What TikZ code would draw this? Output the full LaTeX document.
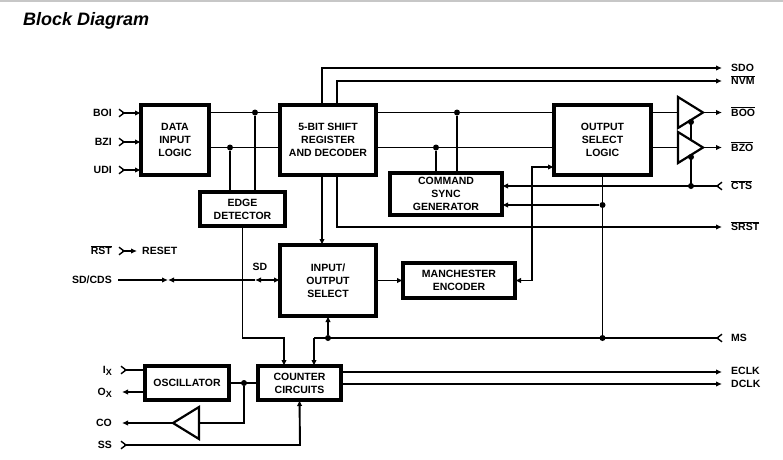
\documentclass[tikz,border=0pt]{standalone}
\usepackage{fontspec}
\setmainfont{Liberation Sans}
\usetikzlibrary{arrows.meta}
\newcommand\ovl[1]{$\overline{\mbox{#1}}$}
\begin{document}
\begin{tikzpicture}[x=1pt,y=-1pt,
  blk/.style={draw,line width=3.8pt,inner sep=0pt,outer sep=0pt,align=center,fill=white,
    font=\bfseries\fontsize{10.5}{12.8}\selectfont},
  wire/.style={line width=1.9pt},
  arr/.style={wire,-{Latex[length=6pt,width=5.5pt]}},
  arrb/.style={wire,{Latex[length=6pt,width=5.5pt]}-{Latex[length=6pt,width=5.5pt]}},
  arrs/.style={wire,{Latex[length=6pt,width=5.5pt]}-},
  chev/.style={line width=1.4pt},
  lbl/.style={font=\bfseries\fontsize{10.5}{12}\selectfont,inner sep=0pt},
  dot/.style={circle,fill,inner sep=0pt,minimum size=6pt},
  buf/.style={line width=2.2pt,fill=white,line join=miter}]
\useasboundingbox (0,0) rectangle (783,459);
\draw[black!22,line width=2pt] (0,1) -- (783,1);
\node[anchor=base west,font=\bfseries\itshape\fontsize{18}{21}\selectfont,inner sep=0pt] (title) at (23,25) {Block Diagram};

% helper coordinates
\coordinate (yA) at (0,112.5);
\coordinate (yB) at (0,147.5);
\coordinate (rx) at (722,0);
\coordinate (xa) at (322,0);
\coordinate (xb) at (337,0);

% blocks
\node[blk,minimum width=68pt,minimum height=70pt] (dil) at (175,140) {DATA\\INPUT\\LOGIC};
\node[blk,minimum width=96pt,minimum height=70pt] (sr) at (328,140) {5-BIT SHIFT\\REGISTER\\AND DECODER};
\node[blk,minimum width=85pt,minimum height=34pt] (ed) at (242.5,209) {EDGE\\DETECTOR};
\node[blk,minimum width=112pt,minimum height=42pt] (csg) at (446,194) {COMMAND\\SYNC\\GENERATOR};
\node[blk,minimum width=97pt,minimum height=70pt] (osl) at (602.5,140) {OUTPUT\\SELECT\\LOGIC};
\node[blk,minimum width=96pt,minimum height=71pt] (io) at (328,280.5) {INPUT/\\OUTPUT\\SELECT};
\node[blk,minimum width=112pt,minimum height=35pt] (me) at (459,280.5) {MANCHESTER\\ENCODER};
\node[blk,minimum width=83pt,minimum height=34pt] (cc) at (299.5,383) {COUNTER\\CIRCUITS};
\node[blk,minimum width=84pt,minimum height=34pt] (osc) at (187,383) {OSCILLATOR};

% left labels
\node[lbl,anchor=base east] (boi) at (112,116.8) {BOI};
\node[lbl,anchor=base east] (bzi) at (112,145.8) {BZI};
\node[lbl,anchor=base east] (udi) at (112,173.8) {UDI};
\node[lbl,anchor=base east] (rst) at (112,254.8) {\ovl{RST}};
\node[lbl,anchor=base west] (reset) at (142,254.8) {RESET};
\node[lbl,anchor=base east] (sdcds) at (112,283.8) {SD/CDS};
\node[lbl] (sd) at (260,267) {SD};
\node[lbl,anchor=base east] (ix) at (112,373.8) {I\raisebox{-2pt}{\fontsize{9}{10}\selectfont X}};
\node[lbl,anchor=base east] (ox) at (112,395.8) {O\raisebox{-2pt}{\fontsize{9}{10}\selectfont X}};
\node[lbl,anchor=base east] (co) at (112,426.8) {CO};
\node[lbl,anchor=base east] (ss) at (112,448.8) {SS};

% right labels
\node[lbl,anchor=base west] (sdo) at (731,71.8) {SDO};
\node[lbl,anchor=base west] (nvm) at (731,84.8) {\ovl{NVM}};
\node[lbl,anchor=base west] (boo) at (731,116.3) {\ovl{BOO}};
\node[lbl,anchor=base west] (bzo) at (731,151.3) {\ovl{BZO}};
\node[lbl,anchor=base west] (cts) at (731,189.8) {\ovl{CTS}};
\node[lbl,anchor=base west] (srst) at (731,230.8) {\ovl{SRST}};
\node[lbl,anchor=base west] (ms) at (731,341.8) {MS};
\node[lbl,anchor=base west] (eclk) at (731,374.8) {ECLK};
\node[lbl,anchor=base west] (dclk) at (731,387.8) {DCLK};

% inputs BOI BZI UDI RST
\foreach \yy in {113,142,170,251}{
  \draw[chev] (119,\yy-3.8) -- (124,\yy) -- (119,\yy+3.8);
}
\draw[arr] (122,113) -- (dil.west |- 0,113);
\draw[arr] (122,142) -- (dil.west |- 0,142);
\draw[arr] (122,170) -- (dil.west |- 0,170);
\draw[arr] (122,251) -- (137,251);

% DIL -> SR
\draw[wire] (dil.east |- yA) -- (sr.west |- yA);
\draw[wire] (dil.east |- yB) -- (sr.west |- yB);
\node[dot] (d1) at (255,112.5) {};
\node[dot] (d2) at (230,147.5) {};
\draw[wire] (d1) -- (d1 |- ed.north);
\draw[wire] (d2) -- (d2 |- ed.north);

% ED -> CC
\draw[arr] (ed.south) -- (ed.south |- 0,338) -- (284,338) -- (284,0 |- cc.north);

% SR top outputs
\draw[arr] (xa |- sr.north) -- (322,68) -- (rx |- 0,68);
\draw[arr] (xb |- sr.north) -- (337,81) -- (rx |- 0,81);
% SR bottom
\draw[arr] (xa |- sr.south) -- (xa |- io.north);
\draw[arr] (xb |- sr.south) -- (337,227) -- (rx |- 0,227);

% SR -> OSL
\draw[wire] (sr.east |- yA) -- (osl.west |- yA);
\draw[wire] (sr.east |- yB) -- (osl.west |- yB);
\node[dot] (d3) at (457,112.5) {};
\node[dot] (d4) at (436,147.5) {};
\draw[wire] (d3) -- (d3 |- csg.north);
\draw[wire] (d4) -- (d4 |- csg.north);

% OSL outputs and buffers
\draw[wire] (osl.east |- yA) -- (680,112.5);
\draw[wire] (osl.east |- yB) -- (680,147.5);
\draw[wire] (691,186) -- (691,121);
\draw[buf] (678,97) -- (703,112.5) -- (678,128) -- cycle;
\draw[buf] (678,132) -- (703,147.5) -- (678,163) -- cycle;
\coordinate (t1) at (703,112.5);
\coordinate (t2) at (703,147.5);
\draw[arr] (t1) -- (rx |- t1);
\draw[arr] (t2) -- (rx |- t2);
\node[dot] at (691,122) {};
\node[dot] at (691,157) {};

% CTS
\draw[chev] (722,186-3.8) -- (717,186) -- (722,186+3.8);
\draw[arr] (719,186) -- (csg.east |- 0,186);
\node[dot] (d5) at (691,186) {};

% OSL bottom
\draw[wire] (osl.south) -- (osl.south |- 0,338);
\node[dot] (d6) at (602.5,205) {};
\draw[arr] (d6) -- (csg.east |- d6);
\node[dot] (d7) at (602.5,338) {};

% MS
\draw[chev] (722,338-3.8) -- (717,338) -- (722,338+3.8);
\draw[wire] (719,338) -- (314,338);
\draw[arr] (314,338) -- (314,0 |- cc.north);
\node[dot] (d8) at (328,338) {};
\draw[arr] (d8) -- (io.south);

% IO -> ME, OSL <-> ME
\draw[arr] (io.east) -- (me.west);
\draw[arrb] (osl.west |- 0,167) -- (532,167) -- (532,280.5) -- (me.east);

% SD/CDS
\draw[arr] (118,280) -- (168,280);
\draw[arrs] (168,280) -- (255,280);
\draw[arrb] (255,280) -- (io.west |- 0,280);

% oscillator, counter
\draw[chev] (121,370-3.8) -- (126,370) -- (121,370+3.8);
\draw[wire] (124,370) -- (osc.west |- 0,370);
\draw[arr] (osc.west |- 0,392) -- (122,392);
\draw[wire] (osc.east) -- (cc.west);
\node[dot] (d9) at (244,383) {};
\draw[wire] (d9) -- (244,423) -- (199,423);
\draw[line width=2.2pt,line join=miter] (199,407) -- (199,439) -- (173,423) -- cycle;
\coordinate (t3) at (173,423);
\draw[arr] (t3) -- (122,423);

% SS
\draw[chev] (121,445-3.8) -- (126,445) -- (121,445+3.8);
\draw[arr] (124,445) -- (300,445) -- (cc.south);

% ECLK DCLK
\draw[arr] (cc.east |- 0,372) -- (rx |- 0,372);
\draw[arr] (cc.east |- 0,384) -- (rx |- 0,384);
\end{tikzpicture}
\end{document}
